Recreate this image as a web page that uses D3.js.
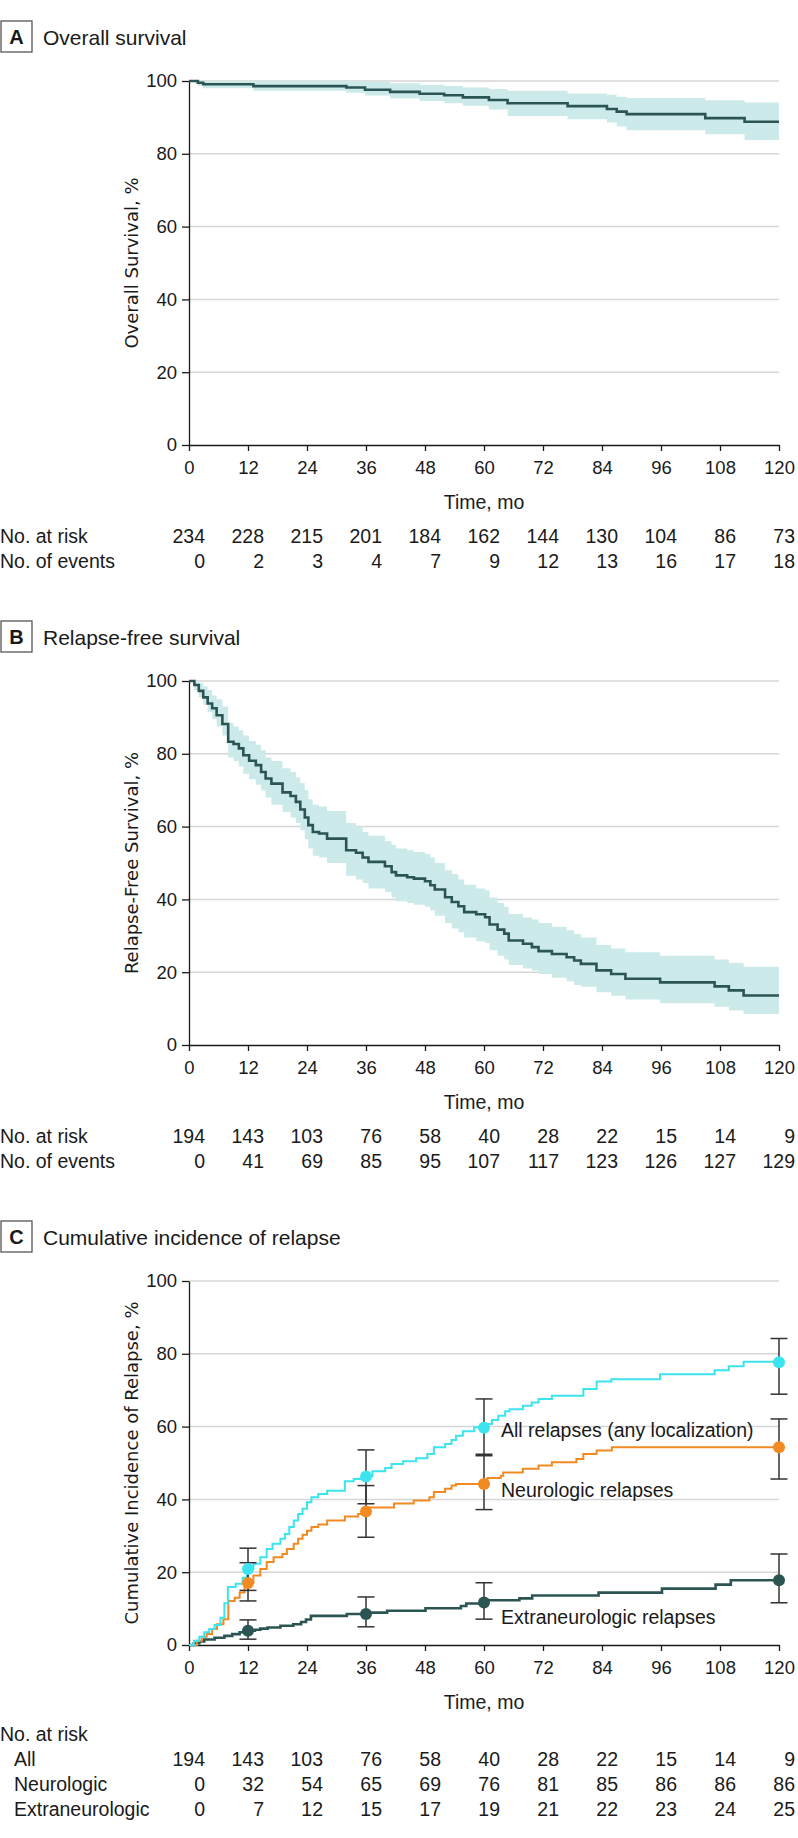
<!DOCTYPE html>
<html><head><meta charset="utf-8">
<script src="https://cdn.jsdelivr.net/npm/d3@7"></script>
<style>
html,body{margin:0;padding:0;background:#fff;}
svg{display:block;}
</style></head>
<body>
<script>
// ---------- DATA ----------
const ticksX = [0,12,24,36,48,60,72,84,96,108,120];
const ticksY = [0,20,40,60,80,100];

// Panel A: Overall survival
const osTime  = [0,1.8,2.9,13.1,32,35.8,40.9,46.9,51.9,55.7,61,64.8,77,85,87,89,105,113];
const osSurv  = [100,99.5,99.1,98.6,98.2,97.6,97.0,96.5,96.1,95.5,94.8,93.9,93.1,92.3,91.6,90.9,89.8,88.8];
const osLower = [100,98.6,98.0,97.3,96.8,96.0,95.2,94.5,93.9,93.2,92.2,90.4,89.5,88.6,87.5,86.5,85.4,83.8];
const osUpper = [100,100,100,100,100,99.8,99.4,99.0,98.6,98.2,97.8,97.3,96.6,96.2,95.7,95.3,94.7,94.1];
const osAtRisk = [234,228,215,201,184,162,144,130,104,86,73];
const osEvents = [0,2,3,4,7,9,12,13,16,17,18];

// Panel B: Relapse-free survival
const rfsTime  = [0,1.09,1.99,2.90,3.80,4.71,5.62,6.79,7.97,9.06,10.14,11.05,12.23,13.59,14.67,15.58,16.76,19.02,20.65,21.74,22.64,23.55,24.27,25.18,26.45,28.08,31.97,33.96,35.32,36.50,39.85,41.21,42.11,44.38,45.74,48.00,49.09,49.99,52.08,53.44,54.79,55.97,58.42,60.23,61.13,62.76,64.12,65.03,67.93,69.74,71.10,73.81,76.80,78.34,79.70,82.87,85.86,88.76,95.82,106.9,109.8,112.8];
const rfsSurv  = [100,98.9,97.3,95.5,93.8,92.5,90.6,88.2,83.3,82.7,81.5,79.6,78.1,76.9,75.0,73.2,71.8,69.4,68.4,66.8,64.7,62.5,60.4,58.5,58.1,56.7,53.5,52.8,51.5,50.3,49.1,47.5,46.6,46.1,45.7,45.0,43.9,42.7,40.6,39.3,38.1,36.5,35.9,35.1,33.1,31.7,30.6,28.7,27.8,26.9,25.8,25.0,24.1,23.2,22.3,20.5,19.5,18.2,17.2,16.1,15.0,13.6];
const rfsLower = [100,97.5,95.5,93.5,91.5,89.5,87.5,85,79,78,76.5,74.5,73,71.5,70,68,66,64,62.5,61,59,56.5,54,52,51.5,50,46.5,45.5,44.5,43,42,40.5,39.5,39,38.5,38,37,35.5,33.5,32,31,29.5,28.5,28,26,24.5,23.5,22,21,20.5,19.5,18.5,17.5,16.5,16,14.5,13.5,12.5,11.5,10.5,9.5,8.5];
const rfsUpper = [100,100,99.5,98.5,97.5,96,95,93,88.5,87.5,86.5,85,83.5,82.5,81,79,78,76,75,73.5,72,70,67.5,66,65.5,64.3,61,60,58.5,57.5,56,55,54,53.5,53,52.5,51.5,50,48,47,45.5,44,43,42.5,40.5,39,38,36,35,34.5,33.5,32.5,31.5,30.5,29.5,27.5,26.5,25.5,24.5,23.5,22.5,21.5];
const rfsAtRisk = [194,143,103,76,58,40,28,22,15,14,9];
const rfsEvents = [0,41,69,85,95,107,117,123,126,127,129];

// Panel C: Cumulative incidence of relapse
const allTime  = [0,1.0,2.1,3.1,4.1,5.2,6.4,7.2,7.9,9.5,10.9,11.8,13.1,14.5,15.8,17.0,18.6,19.5,20.4,21.3,22.2,23.1,24.0,24.9,26.3,28.1,31.7,33.5,35.5,37.3,39.9,41.2,43.5,46.2,48.5,49.8,52.1,53.4,54.3,55.7,58.0,60.7,61.6,62.9,64.3,65.2,67.9,69.7,71.1,73.8,80.2,82.9,85.9,95.8,106.9,109.8,112.8];
const allValue = [0,1.2,2.3,3.5,4.4,5.5,7.5,11.5,15.9,16.8,18.5,20.9,22.3,24.1,26.4,27.8,29.2,30.5,32.4,34.2,36.0,37.4,39.2,40.6,41.5,42.4,45.0,45.6,46.3,47.7,48.6,49.7,50.5,51.3,52.5,54.3,55.2,56.3,57.5,58.7,59.8,60.7,61.8,63.0,64.2,64.8,65.7,66.6,67.6,68.5,70.3,72.4,73.0,74.4,75.5,76.6,77.8];
const neuroTime  = [0,1.6,2.6,3.6,4.7,5.7,7.0,8.0,9.3,10.3,11.3,13.1,14.5,15.8,17.2,19.0,19.9,21.3,22.2,23.1,24.0,24.9,26.3,28.1,31.7,34.4,36.7,41.7,45.7,48.9,49.8,52.1,53.4,54.3,60.7,63.4,63.9,67.9,71.1,73.8,78.8,80.2,82.9,86.0];
const neuroValue = [0,1.2,2.3,3.0,4.4,5.7,7.1,12.1,13.0,14.4,17.0,19.1,20.9,22.8,24.1,25.0,26.4,27.8,29.2,30.3,31.4,32.4,33.1,34.2,35.3,36.0,37.8,38.9,39.7,40.6,42.0,42.9,43.8,44.2,45.9,46.5,47.4,48.4,49.3,50.2,51.1,52.5,53.4,54.3];
const extraTime  = [0,1.0,2.1,3.1,5.2,7.2,8.8,10.3,11.8,13.4,14.5,16.0,18.6,21.2,22.8,23.8,24.8,32.1,36.2,40.3,48.1,55.3,56.4,60.5,67.2,69.8,83.3,96.2,107.1,110.2];
const extraValue = [0,0.5,1.0,1.5,2.0,2.5,3.0,3.5,3.9,4.2,4.5,4.8,5.3,5.7,6.3,7.0,8.0,8.5,8.9,9.4,10.1,10.7,11.4,12.3,12.8,13.6,14.4,15.5,16.6,17.8];

const markTimes = [12,36,60,120];
const allPts = [20.9,46.3,59.7,77.7], allLo = [15.0,38.8,52.0,68.9], allHi = [26.6,53.6,67.6,84.2];
const neuroPts = [17.0,36.7,44.2,54.3], neuroLo = [12.1,29.6,37.2,45.6], neuroHi = [22.6,43.8,52.4,62.1];
const extraPts = [3.9,8.5,11.7,17.8], extraLo = [1.6,5.0,7.1,11.6], extraHi = [6.9,13.2,17.1,25.0];

const allAtRisk = [194,143,103,76,58,40,28,22,15,14,9];
const neuroAtRisk = [0,32,54,65,69,76,81,85,86,86,86];
const extraAtRisk = [0,7,12,15,17,19,21,22,23,24,25];

// ---------- STYLE ----------
const FONT = "'Liberation Sans', Arial, sans-serif";
const AXFONT = "'DejaVu Sans', Verdana, sans-serif";
const TEXT = "#1a1a1a";
const DARK = "#2b5553", BAND = "#cdeaea", CYAN = "#3ce4ee", ORANGE = "#f28a22";

const svg = d3.select("body").append("svg").attr("width",798).attr("height",1838);
const x = d3.scaleLinear().domain([0,120]).range([189,779]);

function toSteps(t, v){ const p = t.map((d,i)=>[d,v[i]]); p.push([120, v[v.length-1]]); return p; }

function panel(oy, letter, title, ytitle){
  const g = svg.append("g");
  const y = d3.scaleLinear().domain([0,100]).range([oy+445, oy+81]);
  // label box
  g.append("rect").attr("x",1).attr("y",oy+21).attr("width",31).attr("height",31)
    .attr("fill","none").attr("stroke","#555").attr("stroke-width",1.3);
  g.append("text").attr("x",16.5).attr("y",oy+44).attr("text-anchor","middle")
    .attr("font-family",FONT).attr("font-weight","bold").attr("font-size",20).attr("fill",TEXT).text(letter);
  g.append("text").attr("x",43).attr("y",oy+45).attr("font-family",FONT).attr("font-size",21).attr("fill",TEXT).text(title);
  // grid
  g.append("g").selectAll("line").data(ticksY.filter(d=>d>0)).join("line")
    .attr("x1",x(0)).attr("x2",x(120)).attr("y1",d=>y(d)).attr("y2",d=>y(d))
    .attr("stroke","#d6d6d6").attr("stroke-width",1.5);
  // y title
  g.append("text").attr("transform",`translate(138,${(y(0)+y(100))/2}) rotate(-90)`)
    .attr("text-anchor","middle").attr("font-family",AXFONT).attr("font-size",18).attr("fill",TEXT).text(ytitle);
  // x title
  g.append("text").attr("x",(x(0)+x(120))/2).attr("y",oy+509).attr("text-anchor","middle")
    .attr("font-family",FONT).attr("font-size",19.5).attr("fill",TEXT).text("Time, mo");
  return {g,y};
}

function axes(p){
  const {g,y} = p;
  const ya = g.append("g").attr("transform",`translate(${x(0)},0)`)
    .call(d3.axisLeft(y).tickValues(ticksY).tickSize(7).tickSizeOuter(0).tickPadding(5));
  const xa = g.append("g").attr("transform",`translate(0,${y(0)})`)
    .call(d3.axisBottom(x).tickValues(ticksX).tickSize(6).tickSizeOuter(0).tickPadding(10));
  [ya,xa].forEach(a=>{
    a.selectAll("path,line").attr("stroke","#1a1a1a").attr("stroke-width",1.3);
    a.selectAll("text").attr("font-family",FONT).attr("font-size",18.5).attr("fill",TEXT);
  });
}

function riskRow(g, baseline, label, vals, indent){
  g.append("text").attr("x",indent).attr("y",baseline).attr("font-family",FONT).attr("font-size",19.5).attr("fill",TEXT).text(label);
  g.append("g").selectAll("text").data(vals).join("text")
    .attr("x",(d,i)=>x(ticksX[i])+16).attr("y",baseline).attr("text-anchor","end")
    .attr("font-family",FONT).attr("font-size",19.5).attr("fill",TEXT).text(d=>d);
}

function kmPanel(oy, letter, title, ytitle, t, s, lo, hi, atRisk, events){
  const p = panel(oy, letter, title, ytitle);
  const {g,y} = p;
  const bandPts = t.map((d,i)=>[d,lo[i],hi[i]]); bandPts.push([120, lo[lo.length-1], hi[hi.length-1]]);
  g.append("path").datum(bandPts)
    .attr("d", d3.area().curve(d3.curveStepAfter).x(d=>x(d[0])).y0(d=>y(d[1])).y1(d=>y(d[2])))
    .attr("fill",BAND);
  axes(p);
  g.append("path").datum(toSteps(t,s))
    .attr("d", d3.line().curve(d3.curveStepAfter).x(d=>x(d[0])).y(d=>y(d[1])))
    .attr("fill","none").attr("stroke",DARK).attr("stroke-width",2.6);
  riskRow(g, y(0)+98, "No. at risk", atRisk, 0);
  riskRow(g, y(0)+123, "No. of events", events, 0);
}

kmPanel(0, "A", "Overall survival", "Overall Survival, %", osTime, osSurv, osLower, osUpper, osAtRisk, osEvents);
kmPanel(600, "B", "Relapse-free survival", "Relapse-Free Survival, %", rfsTime, rfsSurv, rfsLower, rfsUpper, rfsAtRisk, rfsEvents);

// Panel C
(function(){
  const p = panel(1200, "C", "Cumulative incidence of relapse", "Cumulative Incidence of Relapse, %");
  const {g,y} = p;
  axes(p);
  const line = d3.line().curve(d3.curveStepAfter).x(d=>x(d[0])).y(d=>y(d[1]));
  const series = [
    {t:extraTime, v:extraValue, c:DARK, w:2.6, pts:extraPts, lo:extraLo, hi:extraHi},
    {t:neuroTime, v:neuroValue, c:ORANGE, w:2, pts:neuroPts, lo:neuroLo, hi:neuroHi},
    {t:allTime, v:allValue, c:CYAN, w:2, pts:allPts, lo:allLo, hi:allHi}
  ];
  series.forEach(s=>{
    g.append("path").datum(toSteps(s.t,s.v)).attr("d",line)
      .attr("fill","none").attr("stroke",s.c).attr("stroke-width",s.w);
  });
  series.forEach(s=>{
    const eb = g.append("g").attr("stroke","#333").attr("stroke-width",1.5);
    markTimes.forEach((m,i)=>{
      eb.append("line").attr("x1",x(m)).attr("x2",x(m)).attr("y1",y(s.lo[i])).attr("y2",y(s.hi[i]));
      [s.lo[i],s.hi[i]].forEach(v=>eb.append("line").attr("x1",x(m)-8.5).attr("x2",x(m)+8.5).attr("y1",y(v)).attr("y2",y(v)));
    });
  });
  series.forEach(s=>{
    g.append("g").selectAll("circle").data(s.pts).join("circle")
      .attr("cx",(d,i)=>x(markTimes[i])).attr("cy",d=>y(d)).attr("r",6).attr("fill",s.c);
  });
  const lab = [["All relapses (any localization)",1437],["Neurologic relapses",1497],["Extraneurologic relapses",1624]];
  lab.forEach(l=>g.append("text").attr("x",501).attr("y",l[1]).attr("font-family",FONT).attr("font-size",19.5).attr("fill",TEXT).text(l[0]));
  const base = y(0);
  g.append("text").attr("x",0).attr("y",base+96).attr("font-family",FONT).attr("font-size",19.5).attr("fill",TEXT).text("No. at risk");
  riskRow(g, base+121, "All", allAtRisk, 14);
  riskRow(g, base+146, "Neurologic", neuroAtRisk, 14);
  riskRow(g, base+171, "Extraneurologic", extraAtRisk, 14);
})();
</script>
</body></html>
